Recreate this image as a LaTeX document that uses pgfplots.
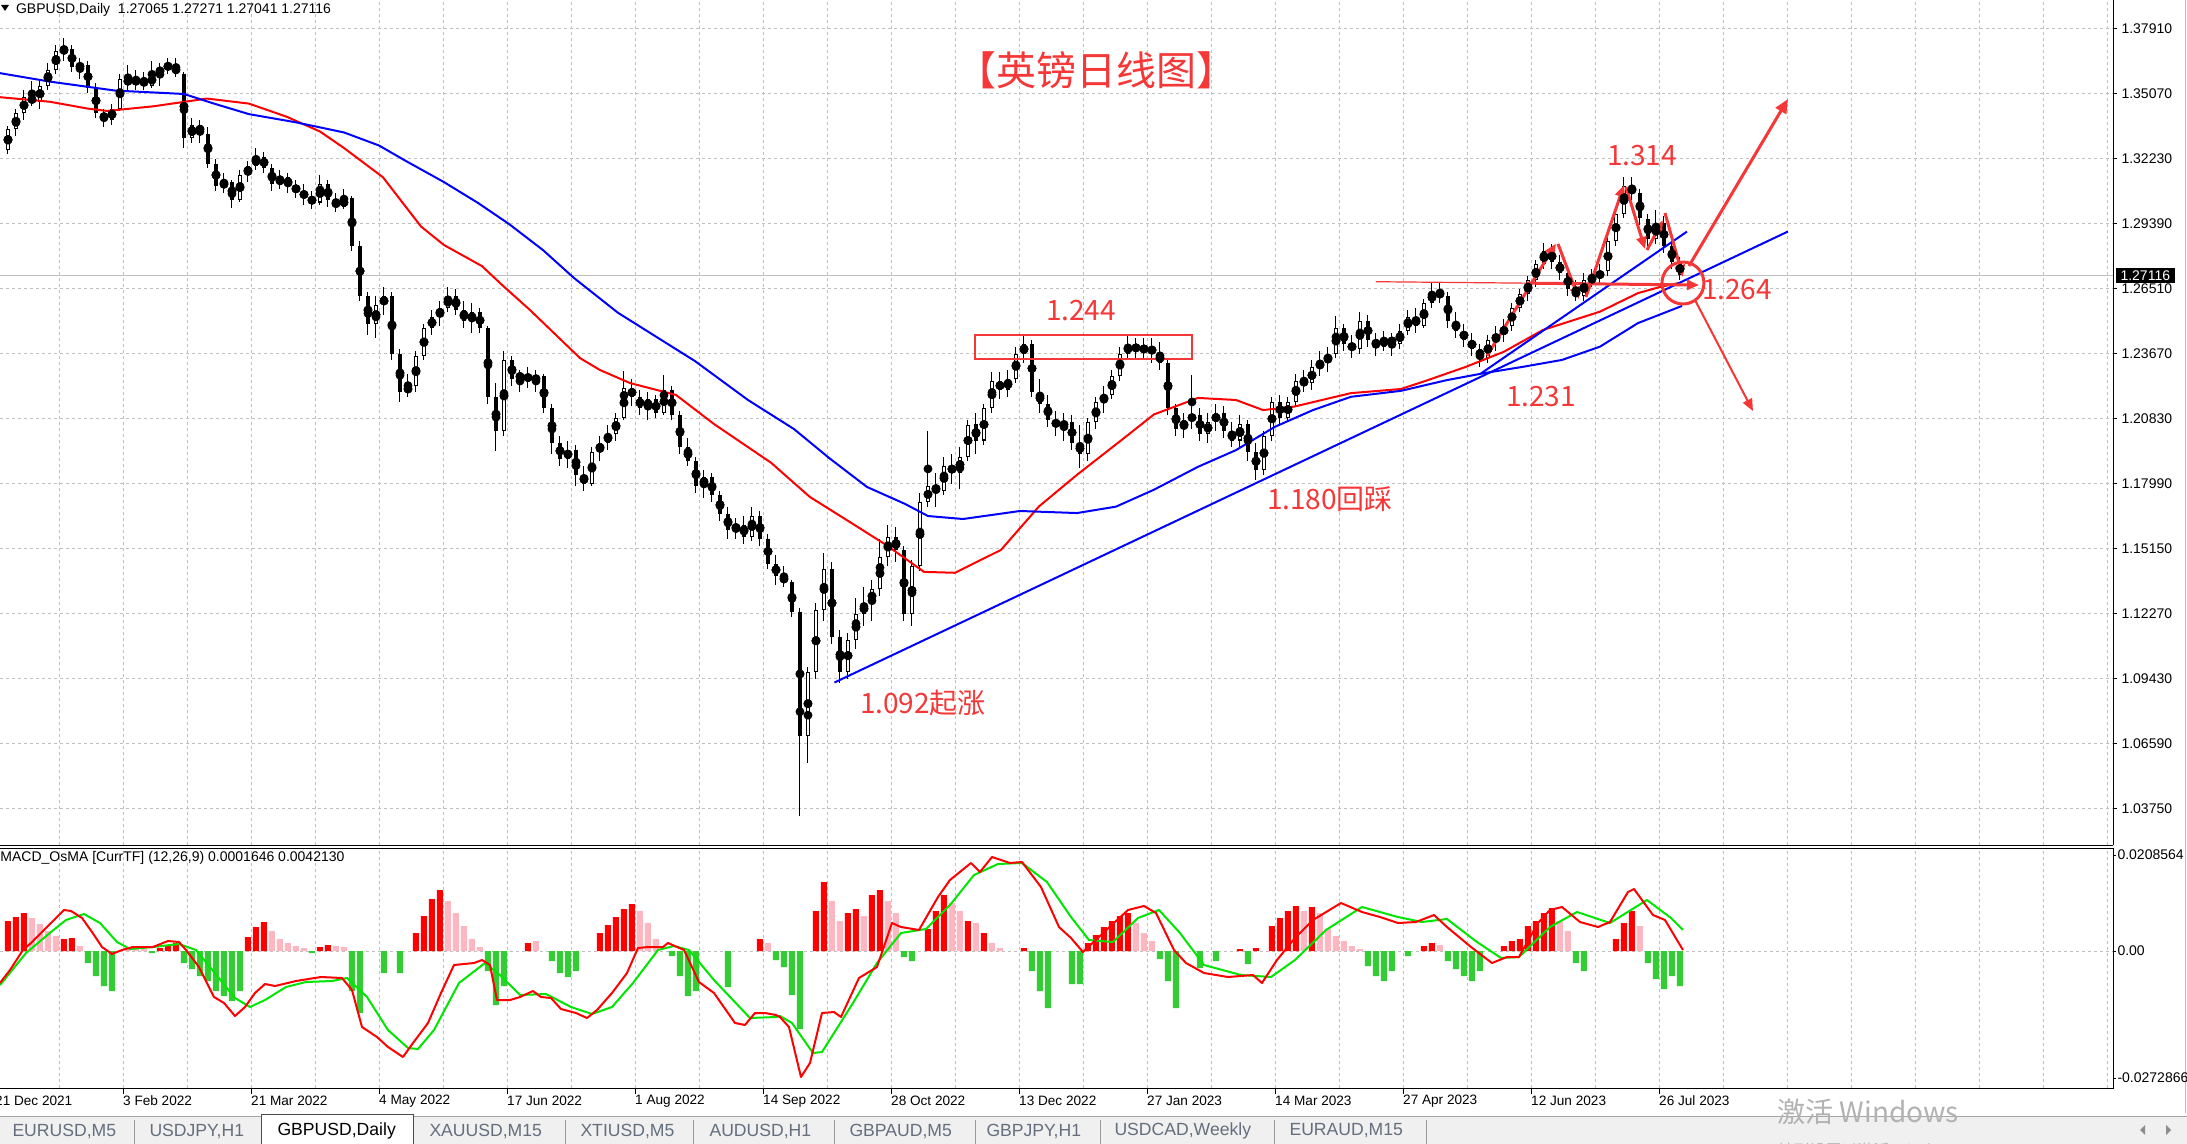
\documentclass[border=0pt]{standalone}
\usepackage{pgfplots}
\pgfplotsset{compat=1.18}
\usepackage{pgfplotstable}
\usepackage{fontspec}
\setmainfont{Liberation Sans}
\newfontfamily\cjk{Noto Sans CJK SC}
\usetikzlibrary{arrows.meta}

\definecolor{gridc}{RGB}{192,192,192}
\definecolor{annred}{RGB}{245,55,55}
\definecolor{histred}{RGB}{255,0,0}
\definecolor{histpink}{RGB}{255,182,193}
\definecolor{histgreen}{RGB}{50,205,50}
\definecolor{siggreen}{RGB}{0,230,0}
\definecolor{tabbg}{RGB}{240,240,240}
\definecolor{tabtxt}{RGB}{100,110,125}
\definecolor{mablue}{RGB}{0,0,255}
\definecolor{mared}{RGB}{255,0,0}

\pgfplotstableread{
x o h l c
8 1.3260 1.3365 1.3240 1.3350
16 1.3350 1.3440 1.3320 1.3420
24 1.3420 1.3520 1.3390 1.3490
32 1.3490 1.3560 1.3450 1.3470
40 1.3470 1.3570 1.3440 1.3540
48 1.3540 1.3640 1.3520 1.3610
56 1.3610 1.3720 1.3590 1.3690
64 1.3690 1.3748 1.3650 1.3700
72 1.3700 1.3720 1.3600 1.3620
80 1.3620 1.3660 1.3570 1.3630
88 1.3630 1.3650 1.3510 1.3530
96 1.3530 1.3550 1.3400 1.3420
104 1.3420 1.3440 1.3360 1.3390
112 1.3390 1.3460 1.3370 1.3440
120 1.3440 1.3590 1.3430 1.3570
128 1.3570 1.3630 1.3520 1.3550
136 1.3550 1.3610 1.3520 1.3570
144 1.3570 1.3600 1.3520 1.3540
152 1.3540 1.3650 1.3530 1.3590
160 1.3590 1.3640 1.3540 1.3620
168 1.3620 1.3660 1.3590 1.3630
176 1.3630 1.3660 1.3580 1.3590
184 1.3590 1.3600 1.3270 1.3310
192 1.3310 1.3400 1.3290 1.3370
200 1.3370 1.3390 1.3290 1.3330
208 1.3330 1.3360 1.3180 1.3200
216 1.3200 1.3220 1.3080 1.3100
224 1.3100 1.3160 1.3070 1.3120
232 1.3120 1.3130 1.3006 1.3040
240 1.3040 1.3170 1.3030 1.3150
248 1.3150 1.3210 1.3120 1.3190
256 1.3190 1.3268 1.3170 1.3230
264 1.3230 1.3250 1.3160 1.3180
272 1.3180 1.3200 1.3080 1.3110
280 1.3110 1.3170 1.3090 1.3140
288 1.3140 1.3160 1.3070 1.3100
296 1.3100 1.3130 1.3050 1.3080
304 1.3080 1.3110 1.3020 1.3050
312 1.3050 1.3080 1.3000 1.3030
320 1.3030 1.3150 1.3020 1.3110
328 1.3110 1.3130 1.3010 1.3040
336 1.3040 1.3070 1.2990 1.3010
344 1.3010 1.3090 1.3000 1.3050
352 1.3050 1.3060 1.2820 1.2840
360 1.2840 1.2860 1.2600 1.2620
368 1.2620 1.2640 1.2450 1.2500
376 1.2500 1.2620 1.2440 1.2580
384 1.2580 1.2660 1.2540 1.2620
392 1.2620 1.2640 1.2340 1.2370
400 1.2370 1.2390 1.2160 1.2200
408 1.2200 1.2280 1.2180 1.2230
416 1.2230 1.2380 1.2200 1.2360
424 1.2360 1.2500 1.2340 1.2480
432 1.2480 1.2560 1.2450 1.2530
440 1.2530 1.2600 1.2490 1.2570
448 1.2570 1.2660 1.2550 1.2620
456 1.2620 1.2650 1.2540 1.2560
464 1.2560 1.2600 1.2480 1.2510
472 1.2510 1.2590 1.2460 1.2550
480 1.2550 1.2570 1.2460 1.2480
488 1.2480 1.2490 1.2150 1.2180
496 1.2180 1.2240 1.1944 1.2030
504 1.2030 1.2380 1.2010 1.2340
512 1.2340 1.2360 1.2230 1.2260
520 1.2260 1.2300 1.2200 1.2280
528 1.2280 1.2310 1.2220 1.2250
536 1.2250 1.2300 1.2200 1.2270
544 1.2270 1.2280 1.2110 1.2130
552 1.2130 1.2150 1.1930 1.1980
560 1.1980 1.2010 1.1880 1.1910
568 1.1910 1.1990 1.1870 1.1950
576 1.1950 1.1970 1.1790 1.1840
584 1.1840 1.1880 1.1770 1.1800
592 1.1800 1.1960 1.1790 1.1940
600 1.1940 1.2010 1.1900 1.1980
608 1.1980 1.2060 1.1950 1.2020
616 1.2020 1.2110 1.1990 1.2090
624 1.2090 1.2294 1.2080 1.2220
632 1.2220 1.2260 1.2140 1.2180
640 1.2180 1.2210 1.2100 1.2130
648 1.2130 1.2200 1.2080 1.2170
656 1.2170 1.2190 1.2090 1.2110
664 1.2110 1.2276 1.2100 1.2210
672 1.2210 1.2230 1.2080 1.2100
680 1.2100 1.2120 1.1930 1.1960
688 1.1960 1.2000 1.1880 1.1900
696 1.1900 1.1920 1.1760 1.1790
704 1.1790 1.1860 1.1740 1.1830
712 1.1830 1.1850 1.1720 1.1750
720 1.1750 1.1770 1.1640 1.1670
728 1.1670 1.1700 1.1560 1.1600
736 1.1600 1.1650 1.1560 1.1620
744 1.1620 1.1660 1.1540 1.1570
752 1.1570 1.1700 1.1550 1.1660
760 1.1660 1.1680 1.1530 1.1560
768 1.1560 1.1580 1.1430 1.1450
776 1.1450 1.1490 1.1360 1.1400
784 1.1400 1.1440 1.1350 1.1370
792 1.1370 1.1380 1.1220 1.1240
800 1.1240 1.1260 1.0350 1.0700
808 1.0700 1.1000 1.0580 1.0980
816 1.0980 1.1280 1.0950 1.1250
824 1.1250 1.1498 1.1200 1.1430
832 1.1430 1.1460 1.1100 1.1130
840 1.1130 1.1160 1.0930 1.0980
848 1.0980 1.1150 1.0950 1.1120
856 1.1120 1.1300 1.1080 1.1230
864 1.1230 1.1350 1.1180 1.1280
872 1.1280 1.1380 1.1200 1.1340
880 1.1340 1.1560 1.1310 1.1480
888 1.1480 1.1620 1.1440 1.1570
896 1.1570 1.1610 1.1460 1.1510
904 1.1510 1.1530 1.1200 1.1230
912 1.1230 1.1470 1.1180 1.1440
920 1.1440 1.1760 1.1420 1.1720
928 1.1720 1.2032 1.1700 1.1790
936 1.1790 1.1850 1.1700 1.1770
944 1.1770 1.1920 1.1750 1.1880
952 1.1880 1.1930 1.1800 1.1850
960 1.1850 1.1960 1.1780 1.1920
968 1.1920 1.2080 1.1900 1.2060
976 1.2060 1.2110 1.1930 1.1990
984 1.1990 1.2150 1.1970 1.2130
992 1.2130 1.2290 1.2110 1.2250
1000 1.2250 1.2290 1.2170 1.2210
1008 1.2210 1.2300 1.2180 1.2260
1016 1.2260 1.2400 1.2240 1.2370
1024 1.2370 1.2445 1.2330 1.2410
1032 1.2410 1.2430 1.2180 1.2200
1040 1.2200 1.2260 1.2110 1.2150
1048 1.2150 1.2190 1.2050 1.2080
1056 1.2080 1.2120 1.2010 1.2050
1064 1.2050 1.2110 1.1990 1.2070
1072 1.2070 1.2100 1.1950 1.1980
1080 1.1980 1.2060 1.1870 1.1930
1088 1.1930 1.2090 1.1900 1.2070
1096 1.2070 1.2180 1.2040 1.2160
1104 1.2160 1.2230 1.2110 1.2190
1112 1.2190 1.2300 1.2170 1.2270
1120 1.2270 1.2400 1.2250 1.2370
1128 1.2370 1.2450 1.2340 1.2410
1136 1.2410 1.2440 1.2350 1.2380
1144 1.2380 1.2440 1.2340 1.2400
1152 1.2400 1.2440 1.2330 1.2370
1160 1.2370 1.2420 1.2300 1.2330
1168 1.2330 1.2350 1.2100 1.2130
1176 1.2130 1.2150 1.2010 1.2040
1184 1.2040 1.2110 1.2000 1.2080
1192 1.2080 1.2277 1.2040 1.2100
1200 1.2100 1.2130 1.1990 1.2020
1208 1.2020 1.2110 1.1980 1.2070
1216 1.2070 1.2150 1.2030 1.2110
1224 1.2110 1.2140 1.2000 1.2030
1232 1.2030 1.2070 1.1960 1.1990
1240 1.1990 1.2100 1.1960 1.2060
1248 1.2060 1.2080 1.1900 1.1940
1256 1.1940 1.1980 1.1817 1.1860
1264 1.1860 1.2030 1.1840 1.2010
1272 1.2010 1.2180 1.1990 1.2160
1280 1.2160 1.2190 1.2060 1.2090
1288 1.2090 1.2180 1.2070 1.2160
1296 1.2160 1.2280 1.2140 1.2250
1304 1.2250 1.2300 1.2200 1.2240
1312 1.2240 1.2340 1.2210 1.2310
1320 1.2310 1.2380 1.2270 1.2330
1328 1.2330 1.2400 1.2290 1.2370
1336 1.2370 1.2535 1.2350 1.2480
1344 1.2480 1.2500 1.2380 1.2410
1352 1.2410 1.2450 1.2350 1.2390
1360 1.2390 1.2550 1.2370 1.2510
1368 1.2510 1.2540 1.2400 1.2430
1376 1.2430 1.2460 1.2360 1.2400
1384 1.2400 1.2470 1.2380 1.2440
1392 1.2440 1.2460 1.2360 1.2410
1400 1.2410 1.2500 1.2390 1.2470
1408 1.2470 1.2560 1.2450 1.2530
1416 1.2530 1.2570 1.2460 1.2490
1424 1.2490 1.2610 1.2480 1.2590
1432 1.2590 1.2682 1.2570 1.2640
1440 1.2640 1.2680 1.2590 1.2620
1448 1.2620 1.2640 1.2480 1.2510
1456 1.2510 1.2550 1.2440 1.2470
1464 1.2470 1.2500 1.2400 1.2430
1472 1.2430 1.2460 1.2360 1.2390
1480 1.2390 1.2410 1.2310 1.2350
1488 1.2350 1.2450 1.2330 1.2430
1496 1.2430 1.2490 1.2380 1.2450
1504 1.2450 1.2520 1.2420 1.2490
1512 1.2490 1.2590 1.2470 1.2570
1520 1.2570 1.2650 1.2550 1.2630
1528 1.2630 1.2710 1.2600 1.2690
1536 1.2690 1.2780 1.2660 1.2760
1544 1.2760 1.2853 1.2740 1.2820
1552 1.2820 1.2850 1.2740 1.2770
1560 1.2770 1.2800 1.2690 1.2720
1568 1.2720 1.2750 1.2620 1.2650
1576 1.2650 1.2690 1.2600 1.2620
1584 1.2620 1.2720 1.2600 1.2690
1592 1.2690 1.2740 1.2660 1.2700
1600 1.2700 1.2760 1.2670 1.2730
1608 1.2730 1.2880 1.2710 1.2860
1616 1.2860 1.3000 1.2840 1.2980
1624 1.2980 1.3142 1.2960 1.3100
1632 1.3100 1.3140 1.3040 1.3070
1640 1.3070 1.3090 1.2930 1.2960
1648 1.2960 1.2980 1.2840 1.2870
1656 1.2870 1.2997 1.2850 1.2940
1664 1.2940 1.2970 1.2810 1.2840
1672 1.2840 1.2860 1.2740 1.2770
1680 1.2770 1.2790 1.2690 1.2712
}\candles

\pgfplotstableread{
x v
8 30
16 34
24 38
64 12
72 13
160 3
168 6
176 8
248 14
256 24
264 29
320 4
328 6
416 18
424 35
432 52
440 61
528 8
600 18
608 26
616 34
624 42
632 47
760 12
816 40
824 69
848 38
856 42
872 56
880 61
928 22
936 40
944 56
968 30
984 18
1024 3
1088 8
1096 16
1104 24
1112 30
1120 35
1128 38
1240 2
1256 3
1272 25
1280 33
1288 40
1296 45
1312 44
1424 5
1432 8
1504 5
1512 10
1520 12
1528 25
1536 30
1544 38
1552 43
1616 12
1624 28
1632 40
}\hred

\pgfplotstableread{
x v
32 33
40 27
48 20
56 15
80 5
128 2
136 3
144 2
272 20
280 12
288 8
296 5
304 3
336 5
344 4
448 50
456 38
464 25
472 12
480 4
536 10
640 40
648 28
656 12
768 8
832 50
840 30
864 35
888 50
896 38
952 48
960 40
976 28
992 8
1000 3
1136 28
1144 18
1152 10
1304 40
1320 38
1328 22
1336 15
1344 10
1352 5
1360 2
1440 6
1560 30
1568 20
1640 25
}\hpink

\pgfplotstableread{
x v
88 -12
96 -25
104 -35
112 -40
152 -2
184 -12
192 -18
200 -25
208 -30
216 -40
224 -45
232 -50
240 -40
312 -2
352 -40
360 -62
384 -22
400 -22
488 -20
496 -54
504 -35
552 -10
560 -22
568 -26
576 -20
672 -5
680 -25
688 -45
696 -40
728 -36
776 -9
784 -16
792 -44
800 -78
904 -6
912 -10
1032 -20
1040 -40
1048 -57
1072 -33
1080 -33
1160 -8
1168 -30
1176 -57
1200 -17
1216 -10
1248 -13
1368 -15
1376 -25
1384 -30
1392 -20
1408 -5
1448 -10
1456 -18
1464 -25
1472 -30
1480 -20
1576 -12
1584 -20
1648 -12
1656 -28
1664 -38
1672 -25
1680 -35
}\hgreen

\begin{document}
\begin{tikzpicture}
\fill[white] (0pt,0pt) rectangle (1093.5pt,-572pt);

% ---------------- main price panel ----------------
\begin{axis}[
  at={(0pt,0pt)}, anchor=north west, scale only axis,
  width=1056.5pt, height=422.5pt,
  xmin=0, xmax=2113, ymin=1.02226, ymax=1.39147,
  axis line style={draw=none},
  xtick={59.7,123.7,...,2108}, ytick={1.0383,1.0667,...,1.3792},
  xticklabels={}, yticklabels={},
  tick label style={text opacity=0},
  major tick length=0pt,
  grid=major,
  major grid style={gridc, line width=0.5pt, dash pattern=on 1.5pt off 1.5pt},
]
% current price line
\addplot[gridc, line width=0.5pt, forget plot] coordinates {(0,1.27116) (2113,1.27116)};
% wicks
\addplot[only marks, mark=none, forget plot,
  error bars/.cd, y dir=both, y explicit, error mark=none,
  error bar style={draw=black, line width=0.5pt}]
  table[x=x, y expr={(\thisrow{h}+\thisrow{l})/2}, y error expr={(\thisrow{h}-\thisrow{l})/2}] {\candles};
% bodies
\addplot[only marks, mark=none, forget plot,
  error bars/.cd, y dir=both, y explicit, error mark=none,
  error bar style={draw=black, line width=2pt}]
  table[x=x, y expr={(\thisrow{o}+\thisrow{c})/2}, y error expr={max(abs(\thisrow{c}-\thisrow{o})/2,0.00025)}] {\candles};
% bull interiors
\addplot[only marks, mark=none, forget plot,
  error bars/.cd, y dir=both, y explicit, error mark=none,
  error bar style={draw=white, line width=1pt}]
  table[x=x, y expr={(\thisrow{o}+\thisrow{c})/2}, y error expr={max((\thisrow{c}-\thisrow{o})/2-0.00044,0)}] {\candles};

% moving averages
\addplot[mared, line width=1pt, line join=round] coordinates {
(0,1.3490) (50,1.3470) (88,1.3440) (107,1.3430) (153,1.3450) (207,1.3484)
(249,1.3462) (287,1.3404) (320,1.3340) (344,1.3268) (383,1.3140) (421,1.2925)
(444,1.2844) (482,1.2752) (501,1.2674) (530,1.2560) (555,1.2455) (580,1.2350)
(600,1.2298) (630,1.2241) (676,1.2189) (714,1.2062) (771,1.1893) (810,1.1743)
(848,1.1639) (886,1.1534) (924,1.1416) (955,1.1412) (1001,1.1512) (1039,1.1702)
(1077,1.1840) (1123,1.1997) (1154,1.2104) (1198,1.2176) (1236,1.2167) (1263,1.2123)
(1294,1.2138) (1351,1.2197) (1401,1.2215) (1428,1.2254) (1466,1.2312) (1504,1.2378)
(1543,1.2473) (1600,1.2553) (1638,1.2634) (1661,1.2662) (1681,1.2680)};
\addplot[mablue, line width=1pt, line join=round] coordinates {
(0,1.3595) (50,1.3558) (115,1.3519) (184,1.3504) (214,1.3462) (249,1.3416)
(295,1.3381) (344,1.3336) (379,1.3279) (406,1.3211) (444,1.3119) (478,1.3028)
(509,1.2936) (543,1.2822) (574,1.2700) (618,1.2548) (695,1.2337) (748,1.2167)
(794,1.2040) (829,1.1914) (867,1.1787) (905,1.1713) (928,1.1660) (963,1.1647)
(1020,1.1682) (1077,1.1673) (1116,1.1701) (1154,1.1775) (1198,1.1875) (1236,1.1948)
(1275,1.2050) (1313,1.2123) (1351,1.2181) (1401,1.2207) (1447,1.2254) (1485,1.2285)
(1523,1.2312) (1562,1.2342) (1600,1.2400) (1638,1.2503) (1682,1.2578)};

% trend lines
\addplot[mablue, line width=1pt] coordinates {(834.5,1.09326) (1788,1.29031)};
\addplot[mablue, line width=1pt] coordinates {(1481,1.2283) (1687,1.29027)};

% annotations
\draw[annred, line width=1.25pt] (975,1.2452) rectangle (1192,1.2347);
\draw[annred, line width=0.6pt] (1376,1.26838) -- (1527,1.26775);
\draw[annred, line width=1.5pt, -{Triangle[length=6pt,width=5pt]}] (1527,1.26775) -- (1699,1.26694);
\draw[annred, line width=1.5pt, -{Triangle[length=6pt,width=5pt]}] (1487,1.2360) -- (1556,1.28507);
\draw[annred, line width=1.5pt, -{Triangle[length=6pt,width=5pt]}] (1558,1.2849) -- (1579,1.26082);
\draw[annred, line width=1.5pt, -{Triangle[length=6pt,width=5pt]}] (1586,1.2617) -- (1624,1.31063);
\draw[annred, line width=1.5pt, -{Triangle[length=6pt,width=5pt]}] (1626,1.3098) -- (1645,1.28267);
\draw[annred, line width=1.5pt, -{Triangle[length=6pt,width=5pt]}] (1647,1.28223) -- (1663,1.29534);
\draw[annred, line width=1.5pt, -{Triangle[length=6pt,width=5pt]}] (1665,1.2984) -- (1683,1.27043);
\draw[annred, line width=1.5pt] (1683,1.26781) circle[radius=10.5pt];
\draw[annred, line width=1.5pt, -{Triangle[length=7pt,width=6pt]}] (1689,1.27526) -- (1788,1.34818);
\draw[annred, line width=1pt, -{Triangle[length=6pt,width=5pt]}] (1695,1.26039) -- (1753,1.21189);
\end{axis}

% ---------------- MACD panel ----------------
\begin{axis}[
  at={(0pt,-424pt)}, anchor=north west, scale only axis,
  width=1056.5pt, height=120pt,
  xmin=0, xmax=2113, ymin=-137, ymax=103,
  axis line style={draw=none},
  xtick={59.7,123.7,...,2108}, ytick=\empty,
  xticklabels={}, tick label style={text opacity=0},
  major tick length=0pt,
  xmajorgrids,
  major grid style={gridc, line width=0.5pt, dash pattern=on 1.5pt off 1.5pt},
]
\addplot[gridc, line width=0.5pt, dash pattern=on 1.5pt off 1.5pt, forget plot] coordinates {(0,0) (2113,0)};
\addplot[ybar, bar width=3pt, bar shift=0pt, fill=histred, draw=none] table[x=x,y=v] {\hred};
\addplot[ybar, bar width=3pt, bar shift=0pt, fill=histpink, draw=none] table[x=x,y=v] {\hpink};
\addplot[ybar, bar width=3pt, bar shift=0pt, fill=histgreen, draw=none] table[x=x,y=v] {\hgreen};
\addplot[siggreen, line width=1pt, line join=round] coordinates {
(0,-34) (26,-2) (51,19) (66,31) (84,37) (100,28) (117,9) (130,2) (153,4) (179,7)
(196,1) (214,-21) (235,-47) (250,-56) (265,-49) (286,-36) (306,-31) (332,-30)
(347,-27) (367,-46) (388,-79) (408,-97) (418,-98) (434,-79) (459,-32) (485,-12)
(500,-24) (520,-44) (546,-43) (571,-56) (592,-63) (612,-56) (633,-32) (658,1)
(674,5) (689,1) (714,-29) (750,-67) (776,-66) (780,-65) (792,-72) (813,-102)
(822,-101) (853,-52) (877,-12) (901,18) (926,22) (950,46) (974,76) (998,87)
(1022,88) (1047,69) (1071,34) (1089,11) (1113,9) (1138,33) (1159,41) (1180,18)
(1204,-14) (1241,-24) (1271,-26) (1295,-9) (1326,21) (1362,44) (1398,34)
(1422,29) (1447,32) (1477,9) (1501,-7) (1519,-6) (1550,24) (1577,39) (1610,28)
(1647,51) (1671,33) (1683,21)};
\addplot[histred, line width=1pt, line join=round] coordinates {
(0,-32) (10,-19) (23,1) (31,8) (51,28) (64,41) (71,40) (82,33) (92,19) (102,4)
(112,-3) (122,1) (133,4) (153,4) (168,10) (179,9) (186,1) (199,-16) (214,-46)
(224,-52) (235,-65) (245,-56) (255,-42) (265,-33) (275,-35) (296,-30) (321,-26)
(342,-27) (352,-39) (362,-76) (377,-86) (388,-96) (403,-106) (413,-92) (428,-72)
(441,-42) (454,-14) (474,-12) (482,-9) (490,-14) (497,-49) (510,-49) (520,-46)
(533,-40) (541,-46) (551,-47) (561,-58) (576,-62) (587,-67) (597,-59) (612,-42)
(627,-22) (638,3) (648,4) (663,4) (668,8) (684,1) (699,-31) (714,-42) (735,-72)
(745,-74) (755,-62) (765,-62) (776,-64) (780,-66) (789,-76) (801,-126) (810,-112)
(822,-62) (834,-61) (841,-66) (859,-27) (877,-16) (892,28) (901,24) (919,21)
(938,54) (950,71) (971,88) (980,79) (992,94) (1010,88) (1022,89) (1041,64)
(1059,24) (1071,13) (1083,-1) (1101,16) (1128,41) (1144,45) (1156,38) (1174,1)
(1186,-12) (1204,-22) (1228,-26) (1253,-24) (1262,-32) (1277,-9) (1295,13)
(1313,31) (1341,48) (1362,39) (1380,34) (1398,28) (1416,29) (1434,36) (1447,24)
(1471,4) (1492,-12) (1507,-6) (1519,-6) (1538,28) (1550,41) (1562,44) (1580,29)
(1598,24) (1610,29) (1628,59) (1634,62) (1653,36) (1665,31) (1683,1)};
\end{axis}

% ---------------- frame, labels, tabs (pixel coordinates) ----------------
\begin{scope}[x=0.5pt, y=-0.5pt, line width=0.5pt]
% borders
\draw (0,845) -- (2113,845);
\draw (2113,0) -- (2113,845);
\draw (0,848) -- (2113,848) -- (2113,1088) -- (0,1088);
\draw[black!25] (2185.5,0) -- (2185.5,1113);
% price labels
\foreach \yy/\lab in {28.3/1.37910, 93.3/1.35070, 158.3/1.32230, 223.3/1.29390,
  288.3/1.26510, 353.3/1.23670, 418.3/1.20830, 483.3/1.17990, 548.3/1.15150,
  613.3/1.12270, 678.3/1.09430, 743.3/1.06590, 808.3/1.03750} {
  \draw (2113,\yy) -- (2117,\yy);
  \node[anchor=west, inner sep=0pt, font=\fontsize{7}{8}\selectfont] at (2121,\yy) {\lab};
}
\node[anchor=west, fill=black, text=white, inner xsep=2.5pt, inner ysep=0pt, minimum height=7.5pt,
  font=\fontsize{7}{8}\selectfont] at (2115,275.3) {1.27116};
% MACD labels
\foreach \yy/\lab in {855/0.0208564, 951/0.00, 1078/-0.0272866} {
  \draw (2113,\yy) -- (2116,\yy);
  \node[anchor=west, inner sep=0pt, font=\fontsize{7}{8}\selectfont] at (2117,\yy) {\lab};
}
% date labels
\foreach \xx/\lab in {-4.3/21 Dec 2021, 123.7/3 Feb 2022, 251.7/21 Mar 2022, 379.7/4 May 2022,
  507.7/17 Jun 2022, 635.7/1 Aug 2022, 763.7/14 Sep 2022, 891.7/28 Oct 2022,
  1019.7/13 Dec 2022, 1147.7/27 Jan 2023, 1275.7/14 Mar 2023, 1403.7/27 Apr 2023,
  1531.7/12 Jun 2023, 1659.7/26 Jul 2023} {
  \draw (\xx,1088) -- (\xx,1094);
  \node[anchor=west, inner sep=0pt, font=\fontsize{6.8}{8}\selectfont] at (\xx-1,1101) {\lab};
}
% titles
\fill (1,5) -- (9,5) -- (5,11) -- cycle;
\node[anchor=west, inner sep=0pt, font=\fontsize{7}{8}\selectfont] at (15.6,9.5)
  {GBPUSD,Daily\ \ 1.27065 1.27271 1.27041 1.27116};
\node[anchor=west, inner sep=0pt, font=\fontsize{7}{8}\selectfont] at (0,858)
  {MACD\_OsMA [CurrTF] (12,26,9) 0.0001646 0.0042130};
% annotation texts
\node[annred, font=\cjk\fontsize{20}{22}\selectfont] at (1096,70) {【英镑日线图】};
\node[annred, font=\cjk\fontsize{14}{16}\selectfont] at (1081,311) {1.244};
\node[annred, font=\cjk\fontsize{14}{16}\selectfont] at (923,703) {1.092起涨};
\node[annred, font=\cjk\fontsize{14}{16}\selectfont] at (1330,499) {1.180回踩};
\node[annred, font=\cjk\fontsize{14}{16}\selectfont] at (1541,397) {1.231};
\node[annred, font=\cjk\fontsize{14}{16}\selectfont] at (1642,156) {1.314};
\node[annred, font=\cjk\fontsize{14}{16}\selectfont] at (1737,290) {1.264};
% tabs
\fill[tabbg] (0,1116) rectangle (2187,1144);
\draw[black!35] (0,1116) -- (2187,1116);
\fill[white] (261,1114) rectangle (413,1144);
\draw[black!70] (261,1144) -- (261,1114) -- (413,1114) -- (413,1144);
\foreach \xx in {134,565,693,834,975,1100,1274,1426} {
  \draw[black!40] (\xx,1120) -- (\xx,1144);
}
\foreach \xx/\lab in {12/{EURUSD,M5}, 149/{USDJPY,H1}, 429/{XAUUSD,M15}, 580/{XTIUSD,M5},
  709/{AUDUSD,H1}, 849/{GBPAUD,M5}, 986/{GBPJPY,H1}, 1114/{USDCAD,Weekly}, 1289/{EURAUD,M15}} {
  \node[anchor=west, inner sep=0pt, text=tabtxt, font=\fontsize{8.8}{10}\selectfont] at (\xx,1131) {\lab};
}
\node[anchor=west, inner sep=0pt, text=black, font=\fontsize{8.8}{10}\selectfont] at (277,1131) {GBPUSD,Daily};
\fill[black!45] (2140,1130) -- (2145,1125) -- (2145,1135) -- cycle;
\fill[black!45] (2171,1130) -- (2166,1125) -- (2166,1135) -- cycle;
% watermark
\node[anchor=west, inner sep=0pt, text=black!30, font=\cjk\fontsize{14}{16}\selectfont] at (1777,1112) {激活 Windows};
\node[anchor=west, inner sep=0pt, text=black!30, font=\cjk\fontsize{8}{10}\selectfont] at (1777,1150) {转到设置以激活 Windows。};
\end{scope}
\pgfresetboundingbox
\path[use as bounding box] (0pt,0pt) rectangle (1093.5pt,-572pt);
\end{tikzpicture}
\end{document}
